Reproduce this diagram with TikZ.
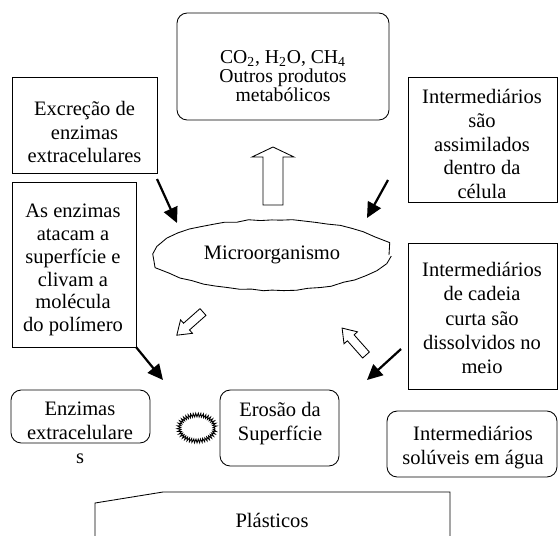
\documentclass[tikz,border=0pt]{standalone}
\usepackage{fontspec}
\setmainfont{Liberation Serif}
\usepackage{tikz}
\usetikzlibrary{shapes.geometric, arrows.meta, decorations.pathmorphing}
\newcommand{\pxu}{0.585pt}
\tikzstyle{sqbox} = [rectangle, draw, line width=0.5pt, inner sep=0pt]
\tikzstyle{rbox} = [sqbox, rounded corners=6pt]
\tikzstyle{txt} = [align=center, inner sep=0pt, font=\fontsize{12}{13.9}\selectfont]
\tikzstyle{line} = [draw, line width=1.3pt, -{Triangle[length=9pt, width=8.5pt]}]
\tikzset{pics/hollow/.style n args={4}{code={
  \draw[fill=white, line width=0.5pt] (0,-#2) -- ({#1-#4},-#2) -- ({#1-#4},-#3) -- (#1,0)
    -- ({#1-#4},#3) -- ({#1-#4},#2) -- (0,#2) -- cycle;}}}

\begin{document}
\begin{tikzpicture}[x=0.585pt, y=-0.585pt]
      \useasboundingbox (0,0) rectangle (558,535);
      % top
      \node [rbox, minimum width=212*\pxu, minimum height=107*\pxu] (co2-box) at (283,66.5) {};
      \node [txt, font=\fontsize{11.5}{11}\selectfont] (co2) at (283,76) {CO\textsubscript{2}, H\textsubscript{2}O, CH\textsubscript{4}\\Outros produtos\\metabólicos};
      \node [sqbox, minimum width=145*\pxu, minimum height=96*\pxu] (excr-box) at (84.5,125) {};
      \node [txt] (excr) at (84.5,132) {Excreção de\\enzimas\\extracelulares};
      \node [sqbox, minimum width=149*\pxu, minimum height=125*\pxu] (assim-box) at (482.5,139.5) {};
      \node [txt] (assim) at (482,144) {Intermediários\\são\\assimilados\\dentro da\\célula};
      % middle
      \node [ellipse, draw, line width=0.5pt, minimum width=234*\pxu, minimum height=70*\pxu,
             decorate, decoration={random steps, segment length=7pt, amplitude=0.5pt}] (micro) at (272,255) {};
      \node [txt] (micro-t) at (272,255) {Microorganismo};
      \node [sqbox, minimum width=124*\pxu, minimum height=165*\pxu] (ataque-box) at (74,264.5) {};
      \node [txt, font=\fontsize{12}{13.4}\selectfont] (ataque) at (73,270) {As enzimas\\atacam a\\superfície e\\clivam a\\molécula\\do polímero};
      \node [sqbox, minimum width=149*\pxu, minimum height=146*\pxu] (cadeia-box) at (482.5,316) {};
      \node [txt, font=\fontsize{12}{14.1}\selectfont] (cadeia) at (482,318) {Intermediários\\de cadeia\\curta são\\dissolvidos no\\meio};
      % bottom
      \node [rbox, minimum width=139*\pxu, minimum height=53*\pxu] (enz-box) at (80.5,416.5) {};
      \node [txt, font=\fontsize{12}{14}\selectfont] (enz) at (80,433) {Enzimas\\extracelulare\\s};
      \node [ellipse, draw, line width=0.5pt, minimum width=36*\pxu, minimum height=26*\pxu,
             decorate, decoration={zigzag, segment length=1.4pt, amplitude=1.1pt}] (scrib) at (197,428) {};
      \node [rbox, minimum width=119*\pxu, minimum height=76*\pxu] (eros-box) at (279.5,428) {};
      \node [txt] (eros) at (280,423.5) {Erosão da\\Superfície};
      \node [rbox, minimum width=170*\pxu, minimum height=66*\pxu] (sol-box) at (472,444) {};
      \node [txt] (sol) at (473,447.5) {Intermediários\\solúveis em água};
      % plastics
      \draw [line width=0.5pt] (95,537) -- (95,503) -- (163,492) -- (450,492) -- (450,537);
      \node [txt] (plast) at (272,520) {Plásticos};
      % Draw edges
      \coordinate (a1) at (157,179);  \coordinate (b1) at (177,223);
      \coordinate (a2) at (388,180);  \coordinate (b2) at (367,218);
      \coordinate (a3) at (136,347);  \coordinate (b3) at (163,380);
      \coordinate (a4) at (401,349);  \coordinate (b4) at (367,380);
      \path [line] (a1) -- (b1);
      \path [line] (a2) -- (b2);
      \path [line] (a3) -- (b3);
      \path [line] (a4) -- (b4);
      \pic [rotate=90] (up) at (273,205) {hollow={58}{10}{21}{10}};
      \pic [rotate=221.5] (down) at (203,312) {hollow={35}{4.5}{9}{13}};
      \pic [rotate=131.6] (back) at (366,355) {hollow={36}{4.5}{9}{13}};
  \end{tikzpicture}
\end{document}
